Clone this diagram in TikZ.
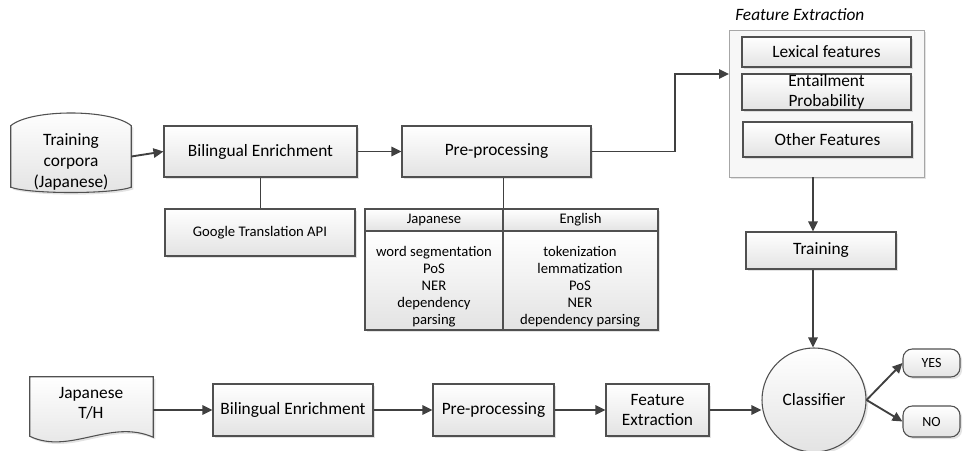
\documentclass[tikz,border=0pt]{standalone}
\usepackage{fontspec}
\setmainfont{Carlito}
\usetikzlibrary{arrows.meta,shadows,fit,calc}
\definecolor{ln}{HTML}{404040}
\definecolor{bd}{HTML}{505050}
\tikzset{
  conn/.style={draw=ln, line width=1.4pt, -{Triangle[length=7.5pt,width=7pt]}},
  plain/.style={draw=ln, line width=1.4pt},
  shd/.style={drop shadow={shadow xshift=1.6pt,shadow yshift=-1.6pt,opacity=0.22}},
  box/.style={draw=bd, line width=0.8pt, top color=white, bottom color=black!11, shd,
    inner sep=0pt},
  shp/.style={draw=bd, line width=0.8pt, top color=white, bottom color=black!11, shd},
  ghost/.style={inner sep=0pt},
  txt/.style={align=center, inner sep=0pt, font=\fontsize{13}{15}\selectfont},
  stxt/.style={align=center, inner sep=0pt, font=\fontsize{11}{12.75}\selectfont},
}
\begin{document}
\begin{tikzpicture}[x=0.75pt,y=-0.75pt]
\useasboundingbox (0,0) rectangle (964,450);

% ---------- training corpora (cylinder) ----------
\node[ghost, fit={(11,126)(131,187)}] (tc) {};
\path[shp] (tc.south west) -- (tc.north west)
  .. controls ($(tc.north west)+(20,-17)$) and ($(tc.north east)+(-20,-17)$) .. (tc.north east)
  -- (tc.south east)
  .. controls ($(tc.south east)+(-20,7)$) and ($(tc.south west)+(20,7)$) .. (tc.south west) -- cycle;
\node[txt, font=\fontsize{13}{15.75}\selectfont] (tct) at (71,162) {Training\\corpora\\(Japanese)};

% ---------- upper row ----------
\node[box, fit={(164,126)(357,177)}, label={[txt]center:Bilingual Enrichment}] (be1) {};
\node[box, fit={(402,126)(591,177)}, label={[txt]center:Pre-processing}] (pp1) {};
\node[box, fit={(165,209)(355,256)}, label={[stxt]center:Google Translation API}] (gt) {};

% table
\node[box, fit={(365,209)(503,231)}, label={[stxt]center:Japanese}] (jh) {};
\node[box, fit={(503,209)(658,231)}, label={[stxt]center:English}] (eh) {};
\node[box, fit={(365,231)(503,330)}] (jb) {};
\node[box, fit={(503,231)(658,330)}] (eb) {};
\node[stxt] (jt) at (434,287) {word segmentation\\PoS\\NER\\dependency\\parsing};
\node[stxt] (et) at (580,287) {tokenization\\lemmatization\\PoS\\NER\\dependency parsing};

% ---------- feature extraction group ----------
\node[ghost, draw=black!35, line width=0.6pt, fill=black!3, shd, fit={(729,30)(924,177)}] (fe) {};
\node[anchor=base west, inner sep=0pt, font=\fontsize{13}{15}\selectfont\itshape] (fel) at (735,20) {Feature Extraction};
\node[box, fit={(742,37)(911,67)}, label={[txt]center:Lexical features}] (lex) {};
\node[box, fit={(742,74)(911,110)}, label={[txt]center:Entailment\\Probability}] (ent) {};
\node[box, fit={(743,122)(912,157)}, label={[txt]center:Other Features}] (oth) {};

\node[box, fit={(746,232)(896,269)}, label={[txt]center:Training}] (tr) {};
\node[box, circle, minimum size=78pt, font=\fontsize{13}{15}\selectfont] (cls) at (814,400) {Classifier};
\node[box, rounded corners=7pt, fit={(903,349)(960,377)}, label={[stxt, font=\fontsize{10.5}{12}\selectfont]center:YES}] (yes) {};
\node[box, rounded corners=7pt, fit={(903,406)(960,437)}, label={[stxt, font=\fontsize{10.5}{12}\selectfont]center:NO}] (no) {};

% ---------- lower row ----------
\node[ghost, fit={(30,377)(153,436)}] (doc) {};
\path[shp] (doc.south west) -- (doc.north west) -- (doc.north east) -- ($(doc.south east)+(0,1)$)
  .. controls ($(doc.south east)+(-43,-18)$) and ($(doc.south west)+(40,19)$) .. (doc.south west) -- cycle;
\node[txt] (doct) at (91,403) {Japanese\\T/H};

\node[box, fit={(213,384)(373,436)}, label={[txt]center:Bilingual Enrichment}] (be2) {};
\node[box, fit={(433,384)(554,436)}, label={[txt]center:Pre-processing}] (pp2) {};
\node[box, fit={(606,384)(709,436)}, label={[txt]center:Feature\\Extraction}] (fe2) {};

% ---------- connectors ----------
\draw[conn] (tc.east) -- (be1.west);
\draw[conn] (be1.east) -- (pp1.west);
\draw[plain] (be1.south) -- (be1.south |- gt.north);
\draw[plain] (jh.north east |- pp1.south) -- (jh.north east);
\coordinate (fein) at (729,74);
\coordinate (bend) at (675,0);
\draw[conn] (pp1.east) -| (bend |- fein) -- (fein);
\coordinate (vx) at (813,0);
\draw[conn] (vx |- fe.south) -- (vx |- tr.north);
\draw[conn] (vx |- tr.south) -- (vx |- cls.north);
\draw[conn] (cls.east) -- (yes.west);
\draw[conn] (cls.east) -- (no.west);

\draw[conn] (be2.west -| doc.east) -- (be2.west);
\draw[conn] (be2.east) -- (pp2.west);
\draw[conn] (pp2.east) -- (fe2.west);
\draw[conn] (fe2.east) -- (fe2.east -| cls.west);
\end{tikzpicture}
\end{document}
